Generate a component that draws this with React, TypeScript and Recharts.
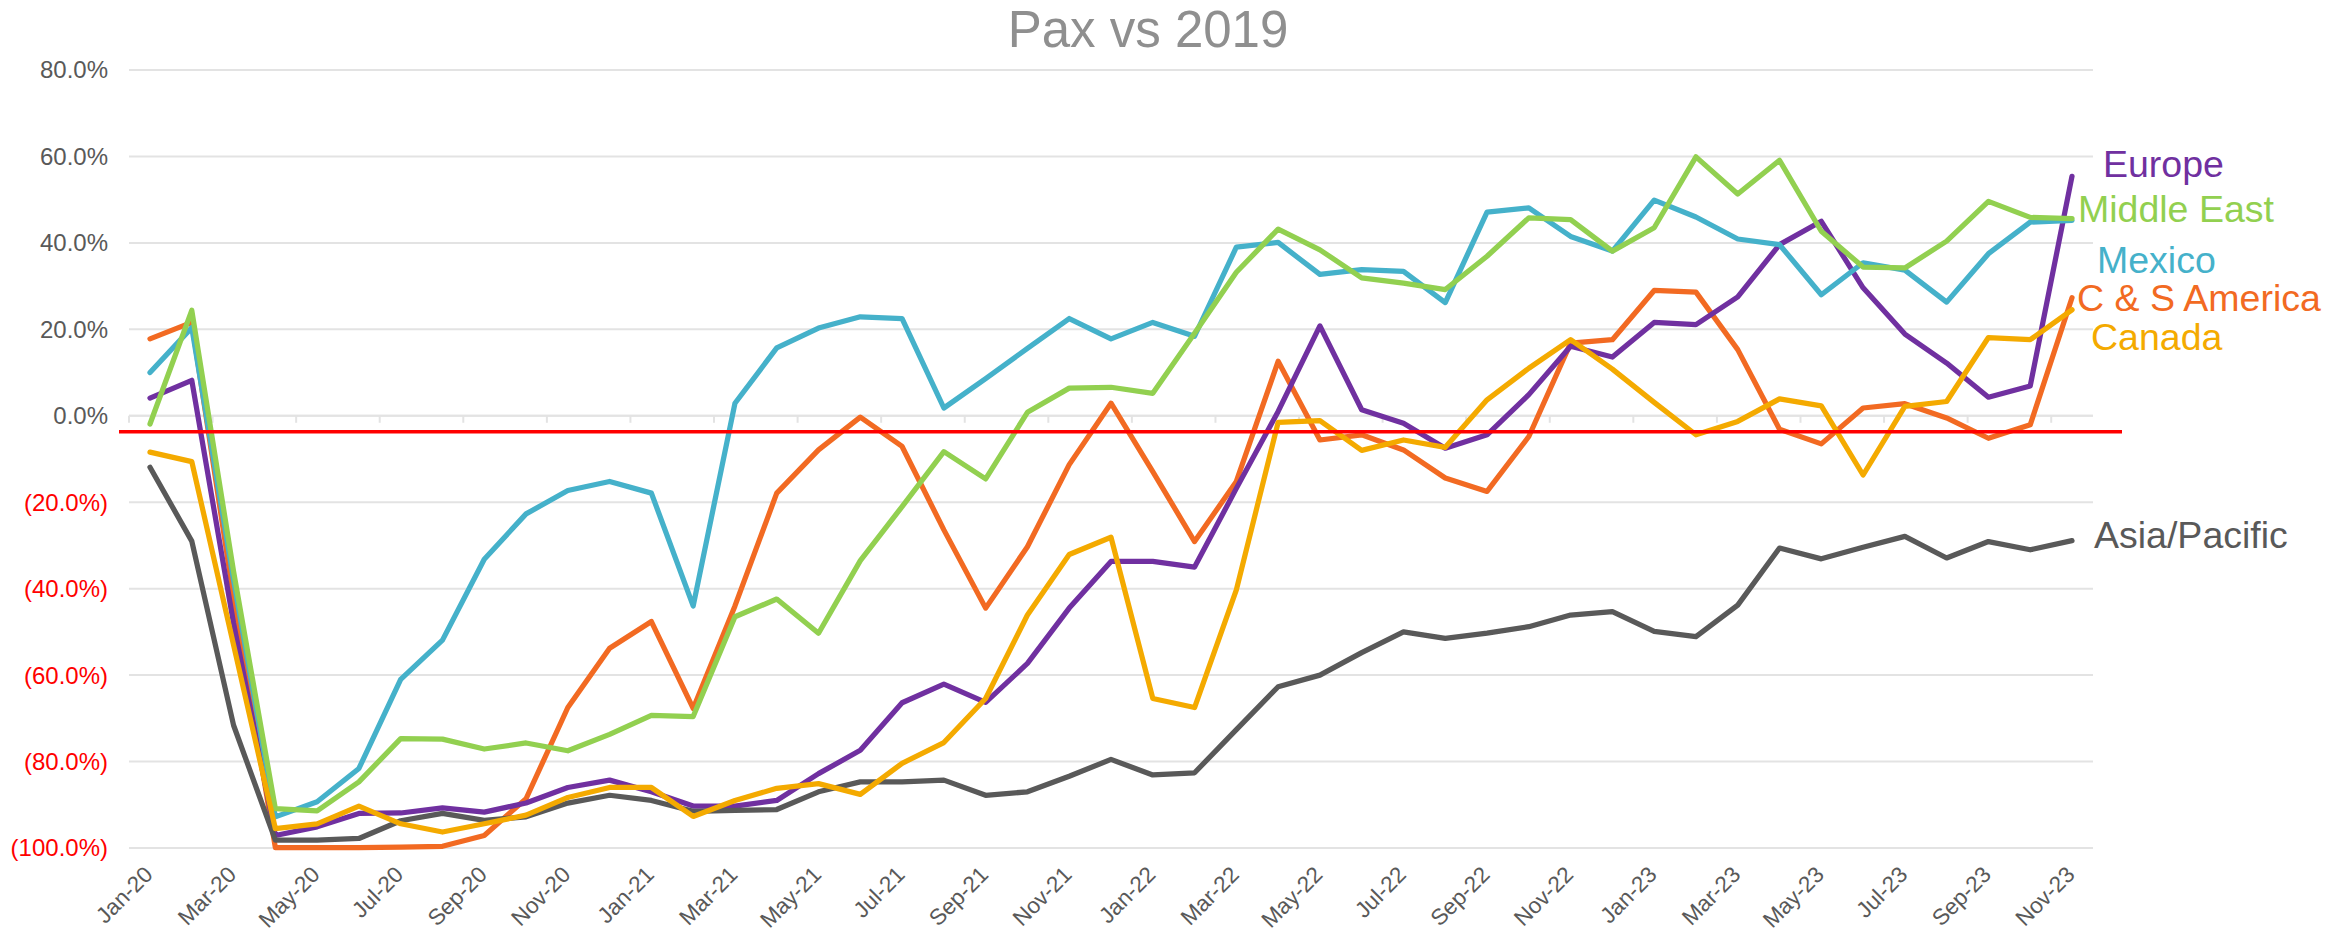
import React from "react";
import {
  LineChart,
  Line,
  XAxis,
  YAxis,
  CartesianGrid,
  ReferenceLine,
  LabelList,
} from "recharts";

const FONT = "'Liberation Sans', Arial, sans-serif";

const months = [
  "Jan-20", "Feb-20", "Mar-20", "Apr-20", "May-20", "Jun-20", "Jul-20", "Aug-20",
  "Sep-20", "Oct-20", "Nov-20", "Dec-20", "Jan-21", "Feb-21", "Mar-21", "Apr-21",
  "May-21", "Jun-21", "Jul-21", "Aug-21", "Sep-21", "Oct-21", "Nov-21", "Dec-21",
  "Jan-22", "Feb-22", "Mar-22", "Apr-22", "May-22", "Jun-22", "Jul-22", "Aug-22",
  "Sep-22", "Oct-22", "Nov-22", "Dec-22", "Jan-23", "Feb-23", "Mar-23", "Apr-23",
  "May-23", "Jun-23", "Jul-23", "Aug-23", "Sep-23", "Oct-23", "Nov-23",
];

const europe = [
  4.1, 8.2, -48, -97.1, -95.1, -92.0, -91.9, -90.7, -91.7, -89.6, -86.0, -84.3,
  -87.0, -90.3, -90.3, -89.0, -82.8, -77.4, -66.4, -62.1, -66.3, -57.3, -44.5, -33.7,
  -33.7, -35.0, -16.8, 1.0, 20.8, 1.4, -1.7, -7.5, -4.4, 4.9, 16.1, 13.6,
  21.6, 21.1, 27.5, 39.6, 45.0, 29.6, 18.9, 12.2, 4.3, 6.9, 55.4,
];

const middleEast = [
  -1.9, 24.4, -36, -90.9, -91.4, -84.7, -74.7, -74.8, -77.1, -75.7, -77.5, -73.7,
  -69.3, -69.6, -46.5, -42.4, -50.3, -33.5, -21.0, -8.3, -14.6, 0.8, 6.4, 6.6,
  5.2, 19.1, 33.2, 43.2, 38.4, 31.9, 30.7, 29.2, 36.9, 45.8, 45.4, 38.1,
  43.5, 59.9, 51.3, 59.1, 42.7, 34.4, 34.2, 40.4, 49.6, 45.9, 45.6,
];

const mexico = [
  10.0, 20.4, -38, -92.8, -89.3, -81.6, -61.0, -51.9, -33.2, -22.7, -17.3, -15.2,
  -17.9, -44.0, 2.9, 15.7, 20.3, 22.9, 22.5, 1.8, 8.6, 15.6, 22.5, 17.8,
  21.6, 18.4, 39.0, 40.1, 32.7, 33.8, 33.4, 26.2, 47.1, 48.1, 41.5, 38.1,
  49.9, 46.0, 40.9, 39.6, 28.0, 35.4, 33.7, 26.3, 37.5, 44.8, 45.2,
];

const csAmerica = [
  17.8, 21.6, -42, -99.9, -99.9, -99.9, -99.8, -99.6, -97.1, -88.6, -67.5, -53.8,
  -47.6, -67.7, -44, -17.9, -7.9, -0.3, -7.1, -26.4, -44.5, -30.3, -11.3, 2.9,
  -12.9, -29.1, -15.2, 12.6, -5.6, -4.4, -7.9, -14.4, -17.5, -4.8, 16.8, 17.6,
  29.0, 28.6, 15.3, -3.1, -6.5, 1.8, 2.8, -0.5, -5.2, -2.1, 27.3,
];

const canada = [
  -8.4, -10.6, -53, -95.5, -94.4, -90.3, -94.4, -96.3, -94.4, -92.4, -88.3, -86.0,
  -86.0, -92.7, -89.0, -86.2, -85.1, -87.6, -80.4, -75.6, -65.4, -46.1, -32.1, -28.1,
  -65.4, -67.5, -40.3, -1.5, -1.1, -8.0, -5.6, -7.3, 3.7, 11.0, 17.6, 10.8,
  3.1, -4.4, -1.3, 3.9, 2.3, -13.7, 2.2, 3.3, 18.1, 17.6, 24.5,
];

const asiaPacific = [
  -11.9, -29.0, -71.6, -98.2, -98.2, -97.8, -93.7, -92.0, -93.6, -92.8, -89.6, -87.8,
  -89.0, -91.5, -91.3, -91.1, -87.0, -84.7, -84.7, -84.3, -87.8, -87.0, -83.4, -79.5,
  -83.1, -82.6, -72.6, -62.7, -60.0, -54.8, -50.0, -51.5, -50.3, -48.8, -46.1, -45.3,
  -49.9, -51.1, -43.8, -30.6, -33.1, -30.4, -27.9, -32.9, -29.1, -31.0, -28.9,
];

const yTicks = [-100, -80, -60, -40, -20, 0, 20, 40, 60, 80];
const breakEven = -3.7;

const data = months.map((m, i) => ({
  month: m,
  europe: europe[i],
  middleEast: middleEast[i],
  mexico: mexico[i],
  csAmerica: csAmerica[i],
  canada: canada[i],
  asiaPacific: asiaPacific[i],
}));

// drawing order and end-label placement
const series = [
  { key: "csAmerica", name: "C & S America", color: "#F26A22", dx: 5, dy: 13 },
  { key: "europe", name: "Europe", color: "#7030A0", dx: 31, dy: 1 },
  { key: "mexico", name: "Mexico", color: "#45B1CA", dx: 25, dy: 53 },
  { key: "middleEast", name: "Middle East", color: "#92D050", dx: 6, dy: 3 },
  { key: "asiaPacific", name: "Asia/Pacific", color: "#595959", dx: 22, dy: 7 },
  { key: "canada", name: "Canada", color: "#F4AA00", dx: 19, dy: 40 },
];

const fmtPct = (v: number) =>
  v < 0 ? `(${Math.abs(v).toFixed(1)}%)` : `${v.toFixed(1)}%`;

const YTick = ({ x, y, payload }: any) => (
  <text
    x={x}
    y={y}
    dy="0.35em"
    textAnchor="end"
    fontSize={24}
    fontFamily={FONT}
    fill={payload.value < 0 ? "#FF0000" : "#595959"}
  >
    {fmtPct(payload.value)}
  </text>
);

const XTick = ({ x, y, payload }: any) => (
  <text
    transform={`translate(${x + 4},${y + 20}) rotate(-45)`}
    textAnchor="end"
    fontSize={22.5}
    fontFamily={FONT}
    fill="#595959"
  >
    {payload.value}
  </text>
);

const endLabel = (name: string, color: string, dx: number, dy: number) => (props: any) => {
  if (props.index !== months.length - 1) return null;
  return (
    <text x={props.x + dx} y={props.y + dy} fill={color} fontSize={37.5} fontFamily={FONT}>
      {name}
    </text>
  );
};

// 0% axis line with small tick marks every two months (at band edges)
const ZeroAxis = (p: any) => {
  const step = (p.x2 - p.x1) / months.length;
  const marks = [];
  for (let k = 0; k < months.length; k += 2) {
    const tx = p.x1 + k * step;
    marks.push(<line key={k} x1={tx} x2={tx} y1={p.y1} y2={p.y1 + 7} stroke="#E3E3E3" strokeWidth={2} />);
  }
  return (
    <g>
      <line x1={p.x1} x2={p.x2} y1={p.y1} y2={p.y2} stroke="#E3E3E3" strokeWidth={2} />
      {marks}
    </g>
  );
};

const RedLine = (p: any) => (
  <line x1={p.x1 - 10} x2={p.x2 + 29} y1={p.y1} y2={p.y2} stroke="#FF0000" strokeWidth={3.5} />
);

const App = () => {
  return (
    <div style={{ position: "absolute", left: 0, top: 0, width: 2349, height: 935, background: "#fff" }}>
      <div
        style={{
          position: "absolute",
          top: 4,
          left: 0,
          width: 2296,
          textAlign: "center",
          fontFamily: FONT,
          fontSize: 51,
          lineHeight: "51px",
          color: "#8F8F8F",
        }}
      >
        Pax vs 2019
      </div>
      <LineChart
        width={2349}
        height={935}
        data={data}
        margin={{ top: 70, right: 256, bottom: 0, left: 9 }}
      >
        <CartesianGrid vertical={false} stroke="#E3E3E3" strokeWidth={2} />
        <XAxis
          dataKey="month"
          interval={1}
          height={87}
          padding={{ left: 21, right: 21 }}
          axisLine={false}
          tickLine={false}
          tick={<XTick />}
        />
        <YAxis
          domain={[-100, 80]}
          ticks={yTicks}
          width={120}
          axisLine={false}
          tickLine={false}
          tickSize={6}
          tickMargin={15}
          tick={<YTick />}
        />
        <ReferenceLine y={0} shape={ZeroAxis} />
        {series.map((s) => (
          <Line
            key={s.key}
            type="linear"
            dataKey={s.key}
            stroke={s.color}
            strokeWidth={5.25}
            strokeLinejoin="round"
            strokeLinecap="round"
            dot={false}
            isAnimationActive={false}
          >
            <LabelList dataKey={s.key} content={endLabel(s.name, s.color, s.dx, s.dy)} />
          </Line>
        ))}
        <ReferenceLine y={breakEven} shape={RedLine} />
      </LineChart>
    </div>
  );
};

export default App;
